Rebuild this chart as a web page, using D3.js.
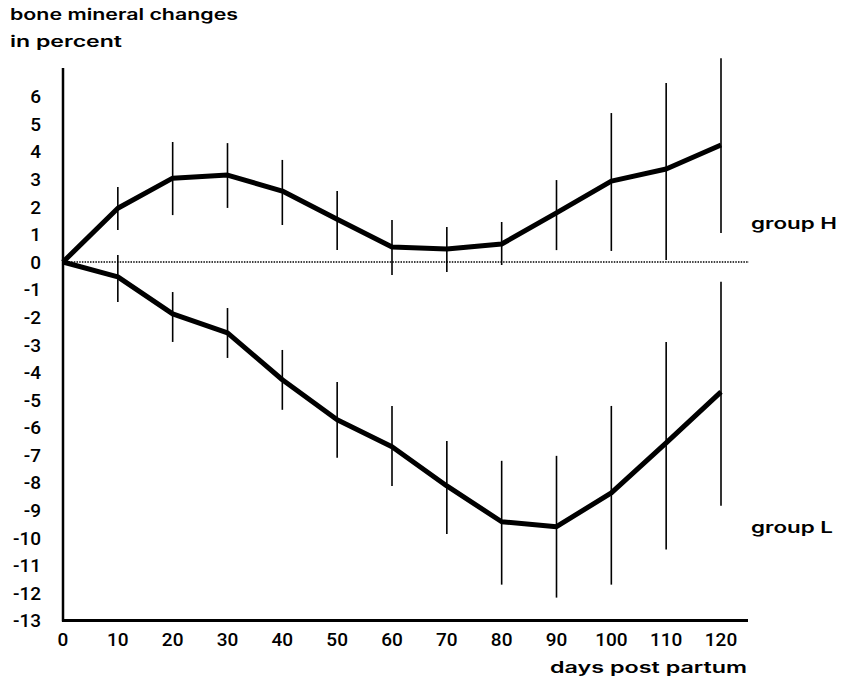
<!DOCTYPE html>
<html>
<head>
<meta charset="utf-8">
<script src="https://cdn.jsdelivr.net/npm/d3@7"></script>
<style>
  body { margin: 0; background: #fff; }
  text { font-family: Roboto, "Liberation Sans", sans-serif; font-weight: 500; fill: #000; }
  text.title { font-family: Inter, "DejaVu Sans", sans-serif; font-weight: 600; }
</style>
</head>
<body>
<div class="chart"></div>
<script>
// days post partum
const days = [0, 10, 20, 30, 40, 50, 60, 70, 80, 90, 100, 110, 120];

// group H: mean and error bar ends
const hMean = [0, 1.95, 3.04, 3.15, 2.57, 1.55, 0.54, 0.47, 0.65, 1.78, 2.93, 3.37, 4.24];
const hHi   = [null, 2.72, 4.35, 4.31, 3.70, 2.57, 1.52, 1.27, 1.45, 2.97, 5.40, 6.49, 7.39];
const hLo   = [null, 1.16, 1.70, 1.96, 1.34, 0.43, -0.47, -0.36, -0.11, 0.43, 0.40, 0.07, 1.05];

// group L
const lMean = [0, -0.54, -1.88, -2.57, -4.27, -5.72, -6.70, -8.12, -9.42, -9.60, -8.37, -6.56, -4.71];
const lHi   = [null, 0.25, -1.09, -1.67, -3.19, -4.35, -5.22, -6.49, -7.21, -7.03, -5.22, -2.90, -0.72];
const lLo   = [null, -1.45, -2.90, -3.48, -5.36, -7.10, -8.12, -9.86, -11.7, -12.17, -11.7, -10.43, -8.84];

const yTicks = d3.range(-13, 7);
const xTicks = days;

let dims = { width: 841, height: 677 };

let svg = d3.select(".chart").append("svg")
  .attr("width", dims.width)
  .attr("height", dims.height);

let x = d3.scaleLinear().domain([0, 120]).range([63, 721]);
let y = d3.scaleLinear().domain([-13, 6]).range([620.5, 96.5]);

// axes lines
svg.append("line")
  .attr("x1", x(0)).attr("x2", x(0))
  .attr("y1", 68).attr("y2", y(-13) + 1)
  .attr("stroke", "#000").attr("stroke-width", 2.5);

svg.append("line")
  .attr("x1", x(0) - 1).attr("x2", 748)
  .attr("y1", y(-13)).attr("y2", y(-13))
  .attr("stroke", "#000").attr("stroke-width", 3);

// zero dotted line
svg.append("line")
  .attr("x1", x(0)).attr("x2", 749)
  .attr("y1", y(0)).attr("y2", y(0))
  .attr("stroke", "#000").attr("stroke-width", 1.5)
  .attr("stroke-dasharray", "1.5,1.2");

// tick labels
svg.append("g").selectAll("text")
  .data(yTicks).join("text")
  .attr("x", 41)
  .attr("y", d => y(d))
  .attr("dy", "0.36em")
  .attr("text-anchor", "end")
  .style("font-size", "19px")
  .text(d => d);

svg.append("g").selectAll("text")
  .data(xTicks).join("text")
  .attr("x", d => x(d))
  .attr("y", 646)
  .attr("text-anchor", "middle")
  .style("font-size", "19px")
  .text(d => d);

// titles
const title = (txt, tx, ty, len, anchor) =>
  svg.append("text").attr("class", "title")
    .attr("x", tx).attr("y", ty)
    .attr("text-anchor", anchor || "start")
    .attr("textLength", len).attr("lengthAdjust", "spacingAndGlyphs")
    .style("font-size", "15.5px")
    .text(txt);

title("bone mineral changes", 10, 20, 228);
title("in percent", 10, 47, 112);
title("days post partum", 550, 673, 197);
title("group H", 751, 229, 86);
title("group L", 751, 533, 82);

// error bars + lines
const groups = [
  { mean: hMean, hi: hHi, lo: hLo },
  { mean: lMean, hi: lHi, lo: lLo }
];

groups.forEach(g => {
  const bars = days.map((d, i) => ({ d, hi: g.hi[i], lo: g.lo[i] })).filter(b => b.hi !== null);
  svg.append("g").selectAll("line")
    .data(bars).join("line")
    .attr("x1", b => x(b.d)).attr("x2", b => x(b.d))
    .attr("y1", b => y(b.hi)).attr("y2", b => y(b.lo))
    .attr("stroke", "#000").attr("stroke-width", 1.6);

  svg.append("path")
    .datum(days.map((d, i) => [d, g.mean[i]]))
    .attr("d", d3.line().x(p => x(p[0])).y(p => y(p[1])))
    .attr("fill", "none")
    .attr("stroke", "#000")
    .attr("stroke-width", 5)
    .attr("stroke-linejoin", "round");
});
</script>
</body>
</html>
